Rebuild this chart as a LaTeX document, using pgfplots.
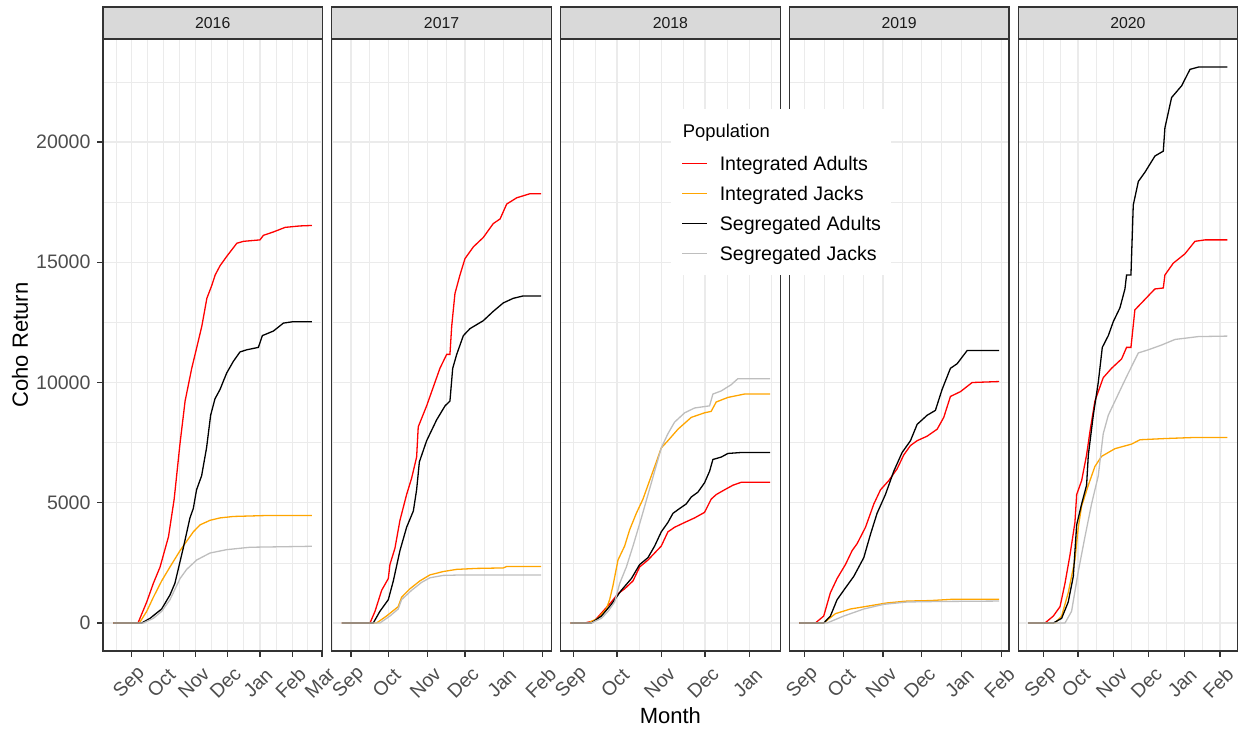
\documentclass[border=0pt]{standalone}
\usepackage{pgfplots}
\pgfplotsset{compat=1.18}
\usepackage{fontspec}
\setmainfont{Liberation Sans}
\definecolor{c92}{HTML}{EBEBEB}
\definecolor{c20}{HTML}{333333}
\definecolor{c30}{HTML}{4D4D4D}
\definecolor{c10}{HTML}{1A1A1A}
\definecolor{c85}{HTML}{D9D9D9}
\definecolor{IA}{HTML}{FF0000}
\definecolor{IJ}{HTML}{FFA500}
\definecolor{SA}{HTML}{000000}
\definecolor{SJ}{HTML}{BEBEBE}
\pgfplotsset{
 panel/.style={
  scale only axis, width=109.75pt, height=306pt, anchor=south west,
  ymin=-1164, ymax=24283,
  ytick={0,5000,10000,15000,20000},
  minor ytick={2500,7500,12500,17500,22500},
  grid=both,
  major grid style={draw=c92, line width=0.6pt},
  minor grid style={draw=c92, line width=0.3pt},
  axis line style={draw=c20, line width=0.6pt},
  major tick length=2.75pt, minor tick length=0pt,
  tick align=outside, tick pos=left,
  tick style={draw=c20, line width=0.6pt},
  xticklabel style={font=\fontsize{9.75}{10}\selectfont, text=c30, anchor=center, xshift=-1pt, yshift=-13.15pt, rotate=45},
  yticklabel style={font=\fontsize{9.75}{10}\selectfont, text=c30},
  scaled y ticks=false,
  /pgf/number format/assume math mode=true,
  /pgf/number format/set thousands separator={},
  every axis title/.style={at={(axis description cs:0.5,1)}, anchor=south, fill=c85, draw=c20, line width=0.6pt,
    minimum width=109.75pt, minimum height=15.65pt, inner sep=0pt, text=c10, font=\fontsize{7.9}{9}\selectfont},
  every axis plot/.append style={line width=0.65pt, no markers},
 },
 noy/.style={yticklabels={}, ytick style={draw=none}},
}
\begin{document}
\begin{tikzpicture}
\path[use as bounding box] (0,0) rectangle (621.5pt,365pt);
% ---------- 2016
\begin{axis}[panel, at={(51.5pt,39.5pt)}, title={2016},
  xmin=-27.3, xmax=181.5,
  xtick={0,30,61,91,122,153,181}, xticklabels={Sep,Oct,Nov,Dec,Jan,Feb,Mar},
  minor xtick={-15,15,45.5,76,106.5,137.5,167},
  ylabel={Coho Return}, ylabel style={at={(axis description cs:-0.378,0.5)}, anchor=center, font=\fontsize{11}{12}\selectfont}]
\addplot[color=IA] coordinates {(-17.5,0)(6,0)(14.3,875)(20.6,1650)(27,2330)(35,3590)(40.4,5150)(46,7480)(50.8,9230)(57.1,10590)(61.9,11460)(66.7,12340)(71.5,13500)(76.2,14040)(79.4,14470)(84.1,14860)(90.5,15250)(100,15790)(106.3,15870)(122,15930)(125.3,16120)(134.8,16260)(145.9,16450)(160,16510)(171.5,16530)};
\addplot[color=IJ] coordinates {(-17.5,0)(7.3,0)(14.3,486)(20.6,1070)(28.5,1750)(36.4,2330)(46,3010)(52.3,3400)(58.6,3790)(65,4080)(74.5,4270)(84,4370)(96.7,4430)(128.4,4470)(171.5,4470)};
\addplot[color=SA] coordinates {(-17.5,0)(9.5,0)(17.4,194)(28.5,583)(36.4,1165)(41.1,1650)(49,3110)(55.4,4370)(58.6,4760)(61.7,5540)(66.5,6120)(71.2,7280)(75.1,8640)(79.2,9320)(84,9710)(90.3,10390)(96.7,10880)(103,11270)(109.4,11360)(120.5,11460)(124.3,11950)(134.8,12140)(144.3,12470)(153.8,12530)(171.5,12530)};
\addplot[color=SJ] coordinates {(-17.5,0)(11,0)(20.6,194)(28.5,486)(36.4,970)(46,1850)(52.3,2230)(61.8,2620)(74.5,2910)(90.3,3050)(112.5,3150)(171.5,3190)};
\end{axis}
% ---------- 2017
\begin{axis}[panel, noy, at={(165.9pt,39.5pt)}, title={2017},
  xmin=-15.3, xmax=159.9,
  xtick={0,30,61,91,122,153}, xticklabels={Sep,Oct,Nov,Dec,Jan,Feb},
  minor xtick={-15,15,45.5,76,106.5,137.5}]
\addplot[color=IA] coordinates {(-7.3,0)(15.2,0)(19.2,486)(24.5,1360)(29.8,1850)(31.1,2430)(35.1,3110)(39.1,4270)(44.4,5340)(48.4,6020)(52.4,6900)(53.7,8160)(60.4,9030)(65.7,9810)(71,10590)(76.4,11170)(79,11170)(80.4,12340)(83,13700)(87,14470)(91,15150)(97.7,15640)(105.6,16030)(113.6,16610)(119,16800)(124.3,17420)(132.3,17680)(142.9,17850)(151.7,17850)};
\addplot[color=IJ] coordinates {(-7.3,0)(20.4,0)(28.4,290)(37.7,680)(40.4,1070)(47,1420)(55,1750)(63,2000)(73.6,2140)(84.3,2230)(100.2,2270)(121.6,2290)(124.3,2350)(151.7,2350)};
\addplot[color=SA] coordinates {(-7.3,0)(17.8,0)(23.1,486)(29.8,970)(33.8,1750)(39.1,3010)(44.4,3980)(49.8,4660)(52.4,5540)(54.6,6700)(60.4,7580)(68.4,8450)(75.1,9030)(79,9230)(81.2,10590)(84.4,11170)(89.7,11950)(95,12240)(105.6,12570)(113.6,12960)(121.6,13310)(129.5,13500)(137.5,13600)(151.7,13600)};
\addplot[color=SJ] coordinates {(-7.3,0)(23.1,0)(31.1,290)(37.7,583)(40.4,970)(48.4,1360)(56.4,1690)(63,1880)(73.6,1980)(89.7,2000)(151.7,2000)};
\end{axis}
% ---------- 2018
\begin{axis}[panel, noy, at={(280.3pt,39.5pt)}, title={2018},
  xmin=-9.1, xmax=143.1,
  xtick={0,30,61,91,122}, xticklabels={Sep,Oct,Nov,Dec,Jan},
  minor xtick={15,45.5,76,106.5,137},
  xlabel={Month}, xlabel style={at={(axis description cs:0.5,-0.1181)}, anchor=base, font=\fontsize{11}{12}\selectfont}]
\addplot[color=IA] coordinates {(-2.2,0)(7.6,0)(14.5,97)(20.3,486)(26.1,874)(30.7,1220)(35.3,1420)(41.1,1750)(45.7,2330)(51.5,2620)(56.1,2910)(60.7,3200)(65.3,3790)(69.9,3980)(76.9,4180)(83.8,4370)(90.7,4600)(95.3,5150)(98.8,5340)(104.6,5540)(110.4,5730)(116.1,5850)(136.2,5850)};
\addplot[color=IJ] coordinates {(-2.2,0)(9.9,0)(16.8,194)(22.6,583)(24.9,970)(27.2,1550)(30.7,2620)(35.3,3200)(38.8,3880)(43.4,4560)(48,5150)(52.6,5920)(57.3,6700)(60.7,7280)(65.3,7580)(72.3,8060)(81.5,8550)(90.7,8740)(95.3,8800)(98.8,9190)(106.9,9380)(118.4,9520)(136.2,9520)};
\addplot[color=SA] coordinates {(-2.2,0)(12.2,0)(19.2,290)(26.1,777)(33,1360)(40,1850)(45.7,2430)(51.5,2720)(56.1,3200)(60.7,3790)(65.3,4180)(68.8,4560)(73.4,4760)(78,4950)(81.5,5240)(86.1,5440)(90.7,5830)(94.2,6310)(96.5,6800)(102.3,6900)(106.9,7050)(116.1,7090)(136.2,7090)};
\addplot[color=SJ] coordinates {(-2.2,0)(12.2,0)(19.2,194)(23.8,486)(28.4,874)(31.9,1650)(36.5,2330)(41.1,3200)(46.9,4370)(51.5,5340)(56.1,6310)(60.7,7280)(65.3,7870)(69.9,8350)(76.9,8740)(83.8,8940)(94.2,9030)(96.5,9520)(102.3,9650)(109.2,9910)(113.8,10160)(136.2,10160)};
\end{axis}
% ---------- 2019
\begin{axis}[panel, noy, at={(394.7pt,39.5pt)}, title={2019},
  xmin=-11.9, xmax=158.9,
  xtick={0,30,61,91,122,153}, xticklabels={Sep,Oct,Nov,Dec,Jan,Feb},
  minor xtick={15,45.5,76,106.5,137.5}]
\addplot[color=IA] coordinates {(-4.1,0)(8.3,0)(14.8,290)(20,1260)(25.2,1850)(31.7,2430)(36.9,3010)(40.8,3300)(47.3,3980)(53.8,4950)(59,5540)(65.4,5920)(71.9,6410)(77.1,6990)(82.3,7380)(87.5,7580)(95.3,7770)(103.1,8060)(108.2,8550)(113.4,9420)(121.2,9620)(130.3,10000)(151.2,10040)};
\addplot[color=IJ] coordinates {(-4.1,0)(14.8,0)(23.9,389)(35.6,583)(51.2,720)(64.1,835)(79.7,913)(97.8,933)(116,990)(151.2,990)};
\addplot[color=SA] coordinates {(-4.1,0)(14.8,0)(20,290)(25.2,970)(31.7,1460)(38.2,1940)(46,2720)(51.2,3690)(56.3,4560)(62.8,5340)(69.3,6310)(75.8,7090)(82.3,7580)(87.5,8260)(95.3,8640)(101.7,8840)(106.9,9710)(113.4,10590)(118.6,10780)(126.4,11330)(151.2,11330)};
\addplot[color=SJ] coordinates {(-4.1,0)(17.4,0)(30.4,290)(46,583)(61.5,777)(79.7,874)(103,894)(151.2,913)};
\end{axis}
% ---------- 2020
\begin{axis}[panel, noy, at={(509.1pt,39.5pt)}, title={2020},
  xmin=-21.7, xmax=168.3,
  xtick={0,30,61,91,122,153}, xticklabels={Sep,Oct,Nov,Dec,Jan,Feb},
  minor xtick={-15,15,45.5,76,106.5,137.5,168},
  legend style={at={(-1.5818,0.8856)}, anchor=north west, fill=white, draw=none,
    font=\fontsize{9.8}{11}\selectfont, inner xsep=5pt, inner ysep=7.3pt,
    row sep=8pt, column sep=6pt,
    nodes={inner sep=0pt, text height=7pt, text depth=0pt, anchor=west}},
  legend image code/.code={\draw[#1,line width=0.7pt] (0pt,0pt) -- (12.5pt,0pt);}]
\addlegendimage{empty legend}
\addlegendentry[font=\fontsize{9.2}{10}\selectfont, text height=6.6pt, text depth=1.7pt]{\hspace*{-18.5pt}Population}
\addplot[color=IA] coordinates {(-13.1,0)(1.5,0)(8.7,290)(14.5,680)(18.8,1650)(23.1,2820)(27.4,4180)(28.9,5340)(33.2,5920)(37.5,6990)(40.4,7960)(44.7,9230)(51.9,10200)(59.1,10590)(67.8,10980)(72.1,11460)(75.9,11460)(79.3,13020)(85.1,13310)(96.6,13890)(103.9,13930)(105.3,14470)(112.5,14960)(122.6,15350)(131.3,15870)(140,15930)(159.3,15930)};
\addlegendentry{Integrated Adults}
\addplot[color=IJ] coordinates {(-13.1,0)(10.1,0)(15.9,290)(21.6,1260)(27.4,2620)(30.3,3980)(33.2,4860)(39,5730)(44.7,6510)(50.5,6930)(62.1,7250)(76.5,7440)(83.7,7620)(105.4,7670)(128.4,7710)(159.3,7710)};
\addlegendentry{Integrated Jacks}
\addplot[color=SA] coordinates {(-13.1,0)(8.7,0)(15.9,194)(21.6,874)(26,1940)(28.9,4080)(33.2,4950)(37.5,5730)(39,6990)(43.3,8640)(47.6,10000)(51.1,11460)(56.3,11950)(60.6,12530)(66.4,13110)(70.7,13890)(72.1,14470)(75.9,14470)(77.9,17380)(82.3,18360)(88.1,18750)(96.7,19420)(103.9,19620)(105.3,20590)(111.1,21850)(119.8,22340)(127,23020)(134.2,23115)(159.3,23115)};
\addlegendentry{Segregated Adults}
\addplot[color=SJ] coordinates {(-13.1,0)(18.8,0)(24.5,486)(30.3,2140)(36.1,3590)(41.8,4950)(47.6,6120)(51.9,7870)(56.3,8640)(62.1,9230)(67.8,9810)(73.6,10390)(82.3,11230)(90.9,11360)(102.5,11560)(114,11790)(134.2,11910)(159.3,11930)};
\addlegendentry{Segregated Jacks}
\end{axis}
\end{tikzpicture}
\end{document}
